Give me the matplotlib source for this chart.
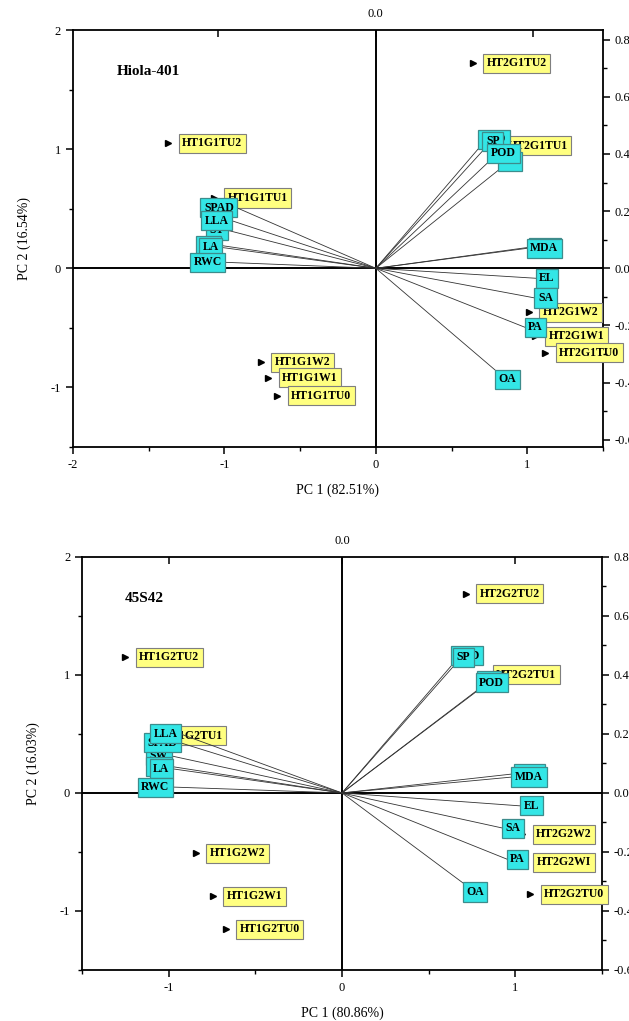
import numpy as np
import matplotlib
matplotlib.use('Agg')
import matplotlib.pyplot as plt
from matplotlib.ticker import MultipleLocator

plt.rcParams['font.family'] = ['Liberation Serif', 'DejaVu Serif']
plt.rcParams['axes.unicode_minus'] = False

# ---- panel 1 : Hiola-401 ----
p1_title = 'Hiola-401'
p1_xlabel = 'PC 1 (82.51%)'
p1_ylabel = 'PC 2 (16.54%)'
p1_samples = ['HT1G1TU2', 'HT1G1TU1', 'HT1G1W2', 'HT1G1W1', 'HT1G1TU0',
              'HT2G1TU2', 'HT2G1TU1', 'HT2G1W2', 'HT2G1W1', 'HT2G1TU0']
p1_pc1 = [-1.37, -1.07, -0.76, -0.71, -0.65, 0.64, 0.78, 1.01, 1.05, 1.12]
p1_pc2 = [1.05, 0.59, -0.79, -0.92, -1.07, 1.72, 1.03, -0.37, -0.57, -0.71]
p1_vars = ['SY', 'SPAD', 'LLA', 'LW', 'LA', 'RWC',
           'SOD', 'SP', 'GB', 'POD', 'PRO', 'MDA', 'EL', 'SA', 'PA', 'OA']
p1_load1 = [-0.471, -0.442, -0.459, -0.493, -0.490, -0.480,
            0.327, 0.341, 0.389, 0.357, 0.490, 0.481, 0.510, 0.506, 0.475, 0.380]
p1_load2 = [0.133, 0.212, 0.167, 0.080, 0.073, 0.021,
            0.420, 0.413, 0.343, 0.371, 0.074, 0.070, -0.035, -0.104, -0.207, -0.357]

# ---- panel 2 : 45S42 ----
p2_title = '45S42'
p2_xlabel = 'PC 1 (80.86%)'
p2_ylabel = 'PC 2 (16.03%)'
p2_samples = ['HT1G2TU2', 'HT1G2TU1', 'HT1G2W2', 'HT1G2W1', 'HT1G2TU0',
              'HT2G2TU2', 'HT2G2TU1', 'HT2G2W2', 'HT2G2WI', 'HT2G2TU0']
p2_pc1 = [-1.25, -1.115, -0.845, -0.747, -0.672, 0.713, 0.81, 1.04, 1.045, 1.086]
p2_pc2 = [1.15, 0.485, -0.51, -0.877, -1.157, 1.69, 1.0, -0.35, -0.587, -0.86]
p2_vars = ['SW', 'SPAD', 'LLA', 'LW', 'LA', 'RWC',
           'SOD', 'SP', 'GB', 'POD', 'PRO', 'MDA', 'EL', 'SA', 'PA', 'OA']
p2_load1 = [-0.494, -0.466, -0.466, -0.494, -0.490, -0.490,
            0.318, 0.322, 0.392, 0.388, 0.497, 0.491, 0.517, 0.463, 0.477, 0.350]
p2_load2 = [0.126, 0.170, 0.200, 0.090, 0.082, 0.020,
            0.435, 0.430, 0.350, 0.344, 0.065, 0.054, -0.044, -0.119, -0.225, -0.306]


def panel(rect, title, xlabel, ylabel, samples, pc1, pc2, names, l1, l2,
          xlim, xmajor, xr, yr):
    ax = fig.add_axes(rect)
    ax.set_xlim(xlim)
    ax.set_ylim(-1.5, 2)
    ax.xaxis.set_major_locator(MultipleLocator(xmajor))
    ax.xaxis.set_minor_locator(MultipleLocator(0.5))
    ax.yaxis.set_major_locator(MultipleLocator(1))
    ax.yaxis.set_minor_locator(MultipleLocator(0.5))
    ax.xaxis.set_major_formatter(lambda v, p: '%g' % v)
    ax.yaxis.set_major_formatter(lambda v, p: '%g' % v)
    ax.tick_params(which='both', direction='out', labelsize=9, top=False, right=False)
    ax.tick_params(which='major', length=5, width=1.1)
    ax.tick_params(which='minor', length=3, width=1.0)
    for s in ax.spines.values():
        s.set_linewidth(1.3)
    ax.axhline(0, color='black', lw=1.4, zorder=1)
    ax.axvline(0, color='black', lw=1.4, zorder=1)
    ax.set_xlabel(xlabel, fontsize=10, labelpad=9)
    ax.set_ylabel(ylabel, fontsize=10, labelpad=14)
    ax.text(0.083, 0.90, title, transform=ax.transAxes, fontsize=11,
            fontweight='bold', va='center')

    ax.plot(pc1, pc2, linestyle='none', marker='>', color='black', ms=4, zorder=3)
    for n, x, y in zip(samples, pc1, pc2):
        ax.annotate(n, (x, y), xytext=(10, 0), textcoords='offset points',
                    ha='left', va='center', fontsize=8.5, fontweight='bold',
                    bbox=dict(boxstyle='square,pad=0.3', fc='#ffff80',
                              ec='#7f7f7f', lw=0.8), zorder=4)

    # loadings on top / right axes
    axl = fig.add_axes(rect, frameon=False)
    axl.set_xlim(xlim[0] / xr, xlim[1] / xr)
    axl.set_ylim(-1.5 / yr, 2 / yr)
    axl.xaxis.tick_top()
    axl.yaxis.tick_right()
    axl.set_xticks([-0.5, 0, 0.5])
    axl.set_xticklabels(['', '0.0', ''])
    axl.yaxis.set_major_locator(MultipleLocator(0.2))
    axl.yaxis.set_minor_locator(MultipleLocator(0.1))
    axl.yaxis.set_major_formatter(lambda v, p: '%.1f' % v)
    axl.tick_params(axis='x', which='both', direction='in', length=5, width=1.1,
                    labelsize=9, pad=7)
    axl.tick_params(axis='y', which='major', direction='out', length=5, width=1.1,
                    labelsize=9)
    axl.tick_params(axis='y', which='minor', direction='out', length=3, width=1.0)
    for n, x, y in zip(names, l1, l2):
        axl.plot([0, x], [0, y], color='#333333', lw=0.6, zorder=2)
        slope = (y * yr) / abs(x * xr)
        va = 'center'
        if slope > 0.6:
            va = 'bottom'
        elif slope < -0.6:
            va = 'top'
        ha = 'left' if x > 0 else 'right'
        dx = 2 if x > 0 else -2
        dy = {'center': 0, 'bottom': 2, 'top': -2}[va]
        axl.annotate(n, (x, y), xytext=(dx, dy), textcoords='offset points',
                     ha=ha, va=va, fontsize=8.5, fontweight='bold',
                     bbox=dict(boxstyle='square,pad=0.3', fc='#33e6e6',
                               ec='#3d8c8c', lw=0.9), zorder=5)
    return ax, axl


fig = plt.figure(figsize=(6.29, 10.21), dpi=100)
panel([0.116, 0.5622, 0.8426, 0.4084], p1_title, p1_xlabel, p1_ylabel,
      p1_samples, p1_pc1, p1_pc2, p1_vars, p1_load1, p1_load2,
      (-2, 1.5), 1, 2.08, 2.4)
panel([0.1304, 0.05, 0.8267, 0.4045], p2_title, p2_xlabel, p2_ylabel,
      p2_samples, p2_pc1, p2_pc2, p2_vars, p2_load1, p2_load2,
      (-1.5, 1.5), 1, 2.0, 2.5)

fig.savefig('out.png', dpi=100)
